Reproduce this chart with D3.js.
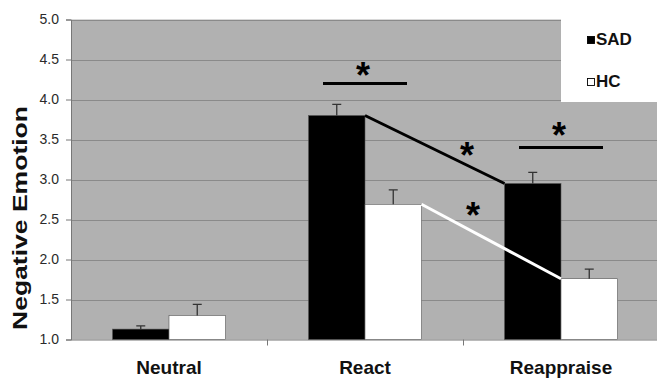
<!DOCTYPE html>
<html><head><meta charset="utf-8">
<script src="https://cdn.jsdelivr.net/npm/d3@7"></script>
<style>body{margin:0;background:#fff}svg{display:block;font-family:Arial,"Liberation Sans",sans-serif}</style>
</head><body><svg id="c" width="657" height="379"></svg>
<script>
const categories = ["Neutral", "React", "Reappraise"];
const groups = ["SAD", "HC"];
const sadValues = [1.13, 3.80, 2.95];
const sadErrors = [0.04, 0.14, 0.14];
const hcValues = [1.30, 2.69, 1.76];
const hcErrors = [0.14, 0.18, 0.12];
const yTicks = [1.0, 1.5, 2.0, 2.5, 3.0, 3.5, 4.0, 4.5, 5.0];
const series = [
  {name: "SAD", values: sadValues, errors: sadErrors, fill: "#000"},
  {name: "HC", values: hcValues, errors: hcErrors, fill: "#fff"}
];

const FONT = "Arial, 'Liberation Sans', sans-serif";
const svg = d3.select("#c");
const m = {left: 71, top: 19.5, right: 659, bottom: 339.5};
const x = d3.scaleBand().domain(categories).range([m.left, m.right]).paddingInner(0).paddingOuter(0);
const x1 = d3.scaleBand().domain(groups).range([0, x.bandwidth()]).paddingInner(0).paddingOuter(0.735);
const y = d3.scaleLinear().domain([1, 5]).range([m.bottom, m.top]);

// plot background
svg.append("rect").attr("x", m.left).attr("y", m.top).attr("width", m.right - m.left).attr("height", m.bottom - m.top).attr("fill", "#b1b1b1");

// gridlines
svg.append("g").selectAll("line").data(yTicks.slice(1)).join("line")
  .attr("x1", m.left).attr("x2", m.right).attr("y1", d => Math.round(y(d)) + 0.5).attr("y2", d => Math.round(y(d)) + 0.5)
  .attr("stroke", "#8a8a8a").attr("stroke-width", 1);

// y axis
const yAxis = svg.append("g").attr("transform", `translate(${m.left},0)`)
  .call(d3.axisLeft(y).tickValues(yTicks).tickFormat(d3.format(".1f")).tickSize(5).tickPadding(7));
yAxis.select(".domain").attr("stroke", "#777");
yAxis.selectAll(".tick line").attr("stroke", "#777");
yAxis.selectAll("text").attr("font-size", 14).attr("fill", "#2a2a2a").attr("font-family", FONT);

// x axis
const xAxis = svg.append("g").attr("transform", `translate(0,${m.bottom})`)
  .call(d3.axisBottom(x).tickSize(0).tickPadding(21));
xAxis.select(".domain").attr("stroke", "#777").attr("d", `M${m.left},0.5H${m.right}`);
xAxis.selectAll("text").attr("font-size", 19).attr("font-weight", "bold").attr("fill", "#111").attr("font-family", FONT);
// category separators
svg.append("g").selectAll("line").data(categories.slice(1)).join("line")
  .attr("x1", d => x(d) + 0.5).attr("x2", d => x(d) + 0.5)
  .attr("y1", m.bottom).attr("y2", m.bottom + 6).attr("stroke", "#777");

// bars
series.forEach(s => {
  const g = svg.append("g");
  g.selectAll("rect").data(categories).join("rect")
    .attr("x", (d) => x(d) + x1(s.name))
    .attr("width", x1.bandwidth())
    .attr("y", (d, i) => y(s.values[i]))
    .attr("height", (d, i) => y(1) - y(s.values[i]))
    .attr("fill", s.fill).attr("stroke", "#555").attr("stroke-width", 0.6);
  // error bars (upper only)
  g.selectAll("path.err").data(categories).join("path").attr("class", "err")
    .attr("d", (d, i) => {
      const cx = x(d) + x1(s.name) + x1.bandwidth() / 2;
      const top = y(s.values[i] + s.errors[i]);
      return `M${cx},${y(s.values[i])}V${top}M${cx - 4.5},${top}H${cx + 4.5}`;
    })
    .attr("stroke", "#333").attr("stroke-width", 1.3).attr("fill", "none");
});

// connecting lines React -> Reappraise
const conn = [
  {s: series[0], color: "#000"},
  {s: series[1], color: "#fff"}
];
conn.forEach(c => {
  const xa = x("React") + x1(c.s.name) + x1.bandwidth();
  const xb = x("Reappraise") + x1(c.s.name);
  svg.append("line")
    .attr("x1", xa).attr("y1", y(c.s.values[1]))
    .attr("x2", xb).attr("y2", y(c.s.values[2]))
    .attr("stroke", c.color).attr("stroke-width", 3);
});

// significance brackets
const sigCats = ["React", "Reappraise"];
const sigLevels = [4.20, 3.40];
const sigStarLevels = [4.40, 3.64];
const STAR = 36;
function star(cx, v) {
  svg.append("text").attr("x", cx).attr("y", y(v) + 20).attr("text-anchor", "middle")
    .attr("font-size", STAR).attr("font-weight", "bold").attr("fill", "#000").attr("font-family", FONT).text("*");
}
sigCats.forEach((c, i) => {
  const cx = x(c) + x.bandwidth() / 2;
  svg.append("line").attr("x1", cx - 42).attr("x2", cx + 42)
    .attr("y1", y(sigLevels[i])).attr("y2", y(sigLevels[i])).attr("stroke", "#000").attr("stroke-width", 3);
  star(cx - 2, sigStarLevels[i]);
});
// stars for the slopes
const slopeStarLevels = [3.40, 2.65];
const slopeStarDx = [102, 108];
slopeStarLevels.forEach((v, i) => star(x("React") + x.bandwidth() / 2 + slopeStarDx[i], v));

// y axis title
svg.append("text").attr("transform", `translate(27,${218}) rotate(-90)`)
  .attr("text-anchor", "middle").attr("font-size", 21).attr("font-weight", "bold").attr("fill", "#111")
  .attr("font-family", FONT).attr("textLength", 224).attr("lengthAdjust", "spacingAndGlyphs")
  .text("Negative Emotion");

// legend
const lg = svg.append("g");
lg.append("rect").attr("x", 561).attr("y", 17).attr("width", 100).attr("height", 85).attr("fill", "#fff");
series.forEach((s, i) => {
  const yy = 45 + i * 42;
  lg.append("rect").attr("x", 587.5).attr("y", yy - 8.5).attr("width", 7).attr("height", 7)
    .attr("fill", s.fill).attr("stroke", "#000").attr("stroke-width", 0.9);
  lg.append("text").attr("x", 596).attr("y", yy).attr("font-size", 17).attr("font-weight", "bold")
    .attr("fill", "#111").attr("font-family", FONT).text(s.name);
});
</script></body></html>
